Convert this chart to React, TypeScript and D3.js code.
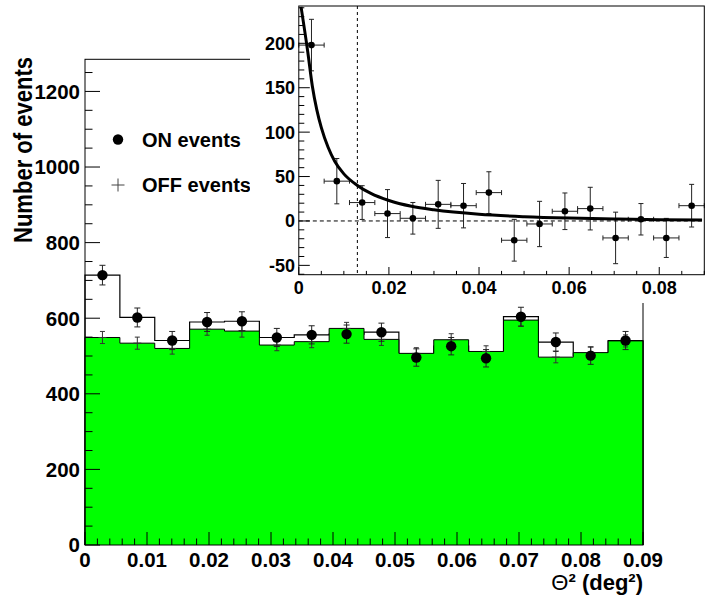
import React from 'react';
import * as d3 from 'd3';

// ---- Main histogram data (16 bins over 0..0.09 deg^2) ----
const onCounts = [714, 602, 541, 590, 592, 549, 556, 558, 563, 496, 526, 494, 604, 537, 501, 541];
const onErrors = [26, 25, 24, 25, 25, 24, 24, 24, 24, 23, 23, 23, 25, 24, 23, 24];
const offCounts = [549, 534, 520, 571, 566, 529, 538, 573, 544, 507, 543, 512, 595, 497, 509, 540];
const offErrors = [16, 16, 15, 16, 16, 15, 16, 16, 16, 15, 16, 15, 16, 15, 15, 16];

// ---- Inset: excess (ON - OFF) ----
const excessCounts = [198, 44.8, 20.7, 8.3, 3, 18.7, 17.2, 31.9, -21.7, -3.4, 10.9, 13.9, -19.1, 1.9, -19.1, 17.2];
const excessErrors = [29, 25.5, 19, 27, 17.8, 27, 25, 23.5, 23.5, 25.5, 20.6, 24, 29, 17.7, 22, 24];

// ---- Fit curve ----
const fitX = [0.0005, 0.002, 0.003, 0.004, 0.005, 0.0065, 0.008, 0.01, 0.013, 0.016, 0.02, 0.025, 0.03, 0.04, 0.05, 0.06, 0.07, 0.08, 0.0895];
const fitY = [241, 190, 152, 125, 105, 83, 67, 53, 40, 31, 23, 16.5, 12.5, 7.5, 4.8, 3.2, 2.2, 1.5, 1.0];
const cutValue = 0.013;

// ---- Ticks / labels ----
const mainXTicks = [0, 0.01, 0.02, 0.03, 0.04, 0.05, 0.06, 0.07, 0.08, 0.09];
const mainXTickLabels = ['0', '0.01', '0.02', '0.03', '0.04', '0.05', '0.06', '0.07', '0.08', '0.09'];
const mainYTicks = [0, 200, 400, 600, 800, 1000, 1200];
const insetXTicks = [0, 0.02, 0.04, 0.06, 0.08];
const insetXTickLabels = ['0', '0.02', '0.04', '0.06', '0.08'];
const insetYTicks = [-50, 0, 50, 100, 150, 200];

const legendItems = ['ON events', 'OFF events'];

const FONT = '"Liberation Sans", Arial, Helvetica, sans-serif';

export default function App() {
  const W = 718, H = 599;
  const xMax = 0.09;
  const nBins = onCounts.length;
  const bw = xMax / nBins;
  const edges = d3.range(nBins + 1).map((i) => i * bw);
  const centers = d3.range(nBins).map((i) => (i + 0.5) * bw);

  // main scales
  const x = d3.scaleLinear().domain([0, xMax]).range([85, 643]);
  const y = d3.scaleLinear().domain([0, 1285]).range([545, 59.3]);

  // inset scales
  const ix = d3.scaleLinear().domain([0, xMax]).range([298.8, 704.3]);
  const iy = d3.scaleLinear().domain([-60.5, 242]).range([274.7, 6]);

  const stepPts = (vals: number[]) => {
    const pts: [number, number][] = [];
    vals.forEach((v, i) => {
      pts.push([edges[i], v]);
      pts.push([edges[i + 1], v]);
    });
    return pts;
  };

  const line = d3.line<[number, number]>().x((d) => x(d[0])).y((d) => y(d[1]));
  const onPath = line([[0, 0], ...stepPts(onCounts), [xMax, 0]]) as string;
  const offPath = line([[0, 0], ...stepPts(offCounts), [xMax, 0]]) as string;
  const offArea = d3
    .area<[number, number]>()
    .x((d) => x(d[0]))
    .y0(y(0))
    .y1((d) => y(d[1]))(stepPts(offCounts)) as string;

  const fitPts = fitX.map((v, i) => [v, fitY[i]] as [number, number]);
  const fitPath = d3
    .line<[number, number]>()
    .x((d) => ix(d[0]))
    .y((d) => iy(d[1]))
    .curve(d3.curveMonotoneX)(fitPts) as string;

  const mainYMinor = d3.range(0, 1285, 50);
  const mainXMinor = d3.range(0, 46).map((i) => i * 0.002);
  const insetYMinor = d3.range(-60, 241, 10);
  const insetXMinor = d3.range(0, 19).map((i) => i * 0.005);

  const errColor = '#222';

  return (
    <svg
      width={W}
      height={H}
      style={{ position: 'absolute', left: 0, top: 0, background: '#fff', fontFamily: FONT }}
    >
      <rect x={0} y={0} width={W} height={H} fill="#fff" />

      {/* ON histogram outline */}
      <path d={onPath} fill="none" stroke="#000" strokeWidth={1.2} />
      {/* OFF histogram filled */}
      <path d={offArea} fill="#00ff00" stroke="none" />
      <path d={offPath} fill="none" stroke="#000" strokeWidth={1} />

      {/* OFF markers (+) with errors */}
      {offCounts.map((v, i) => {
        const cx = x(centers[i]);
        return (
          <g key={'off' + i} stroke="#333" strokeWidth={1}>
            <line x1={cx} x2={cx} y1={y(v + offErrors[i])} y2={y(v - offErrors[i])} />
            <line x1={cx - 2.5} x2={cx + 2.5} y1={y(v + offErrors[i])} y2={y(v + offErrors[i])} />
            <line x1={cx - 2.5} x2={cx + 2.5} y1={y(v - offErrors[i])} y2={y(v - offErrors[i])} />
            <line x1={cx - 4} x2={cx + 4} y1={y(v)} y2={y(v)} />
          </g>
        );
      })}

      {/* ON markers with errors */}
      {onCounts.map((v, i) => {
        const cx = x(centers[i]);
        return (
          <g key={'on' + i}>
            <g stroke={errColor} strokeWidth={1}>
              <line x1={cx} x2={cx} y1={y(v + onErrors[i])} y2={y(v - onErrors[i])} />
              <line x1={cx - 3} x2={cx + 3} y1={y(v + onErrors[i])} y2={y(v + onErrors[i])} />
              <line x1={cx - 3} x2={cx + 3} y1={y(v - onErrors[i])} y2={y(v - onErrors[i])} />
            </g>
            <circle cx={cx} cy={y(v)} r={5.2} fill="#000" />
          </g>
        );
      })}

      {/* Main frame */}
      <rect x={85} y={59.3} width={558} height={545 - 59.3} fill="none" stroke="#000" strokeWidth={1} />

      {/* Main y ticks */}
      {mainYMinor.map((t) => (
        <line key={'ym' + t} x1={85} x2={85 + (t % 200 === 0 ? 15 : 7.5)} y1={y(t)} y2={y(t)} stroke="#000" strokeWidth={1} />
      ))}
      {mainYTicks.map((t) => (
        <text key={'yl' + t} x={80} y={y(t)} dy="0.36em" textAnchor="end" fontSize={20.5} fontWeight="bold">
          {t}
        </text>
      ))}

      {/* Main x ticks */}
      {mainXMinor.map((t, i) => (
        <line key={'xm' + i} x1={x(t)} x2={x(t)} y1={545} y2={545 - (i % 5 === 0 ? 13 : 6.5)} stroke="#000" strokeWidth={1} />
      ))}
      {mainXTicks.map((t, i) => (
        <text key={'xl' + i} x={x(t)} y={567.3} textAnchor="middle" fontSize={20.5} fontWeight="bold">
          {mainXTickLabels[i]}
        </text>
      ))}

      {/* Axis titles */}
      <text
        transform="translate(32,57) rotate(-90)"
        textAnchor="end"
        fontSize={25}
        fontWeight="bold"
        textLength={186}
        lengthAdjust="spacingAndGlyphs"
      >
        Number of events
      </text>
      <text x={643} y={590} textAnchor="end" fontSize={22} fontWeight="bold">
        <tspan fontWeight="normal">Θ</tspan>² (deg²)
      </text>

      {/* Legend */}
      <circle cx={118} cy={139.5} r={5.2} fill="#000" />
      <text x={142} y={146.7} fontSize={20} fontWeight="bold">{legendItems[0]}</text>
      <g stroke="#444" strokeWidth={1}>
        <line x1={111.5} x2={124.5} y1={185} y2={185} />
        <line x1={118} x2={118} y1={178.5} y2={191.5} />
      </g>
      <text x={142} y={191.7} fontSize={20} fontWeight="bold">{legendItems[1]}</text>

      {/* ===== Inset pad ===== */}
      <rect x={250} y={0} width={W - 250} height={303} fill="#fff" />

      {/* zero line and cut line */}
      <line x1={ix(0)} x2={ix(xMax)} y1={iy(0)} y2={iy(0)} stroke="#000" strokeWidth={1} strokeDasharray="4,3" />
      <line x1={ix(cutValue)} x2={ix(cutValue)} y1={iy(242)} y2={iy(-60.5)} stroke="#000" strokeWidth={1} strokeDasharray="3,3" />

      {/* excess points */}
      {excessCounts.map((v, i) => {
        const cx = ix(centers[i]);
        const cy = iy(v);
        const e = excessErrors[i];
        return (
          <g key={'ex' + i}>
            <g stroke={errColor} strokeWidth={1}>
              <line x1={ix(edges[i])} x2={ix(edges[i + 1])} y1={cy} y2={cy} />
              <line x1={ix(edges[i])} x2={ix(edges[i])} y1={cy - 2.5} y2={cy + 2.5} />
              <line x1={ix(edges[i + 1])} x2={ix(edges[i + 1])} y1={cy - 2.5} y2={cy + 2.5} />
              <line x1={cx} x2={cx} y1={iy(v + e)} y2={iy(v - e)} />
              <line x1={cx - 2.5} x2={cx + 2.5} y1={iy(v + e)} y2={iy(v + e)} />
              <line x1={cx - 2.5} x2={cx + 2.5} y1={iy(v - e)} y2={iy(v - e)} />
            </g>
            <circle cx={cx} cy={cy} r={3.3} fill="#000" />
          </g>
        );
      })}

      {/* fit */}
      <path d={fitPath} fill="none" stroke="#000" strokeWidth={3} />

      {/* inset frame */}
      <rect x={298.8} y={6} width={704.3 - 298.8} height={274.7 - 6} fill="none" stroke="#000" strokeWidth={1} />

      {/* inset y ticks */}
      {insetYMinor.map((t) => (
        <line key={'iym' + t} x1={298.8} x2={298.8 + (t % 50 === 0 ? 11 : 5.5)} y1={iy(t)} y2={iy(t)} stroke="#000" strokeWidth={1} />
      ))}
      {insetYTicks.map((t) => (
        <text key={'iyl' + t} x={295} y={iy(t)} dy="0.36em" textAnchor="end" fontSize={18} fontWeight="bold">
          {t}
        </text>
      ))}

      {/* inset x ticks */}
      {insetXMinor.map((t, i) => (
        <line key={'ixm' + i} x1={ix(t)} x2={ix(t)} y1={274.7} y2={274.7 - (i % 4 === 0 ? 7.7 : 3.8)} stroke="#000" strokeWidth={1} />
      ))}
      {insetXTicks.map((t, i) => (
        <text key={'ixl' + i} x={ix(t)} y={293.5} textAnchor="middle" fontSize={18} fontWeight="bold">
          {insetXTickLabels[i]}
        </text>
      ))}
    </svg>
  );
}
